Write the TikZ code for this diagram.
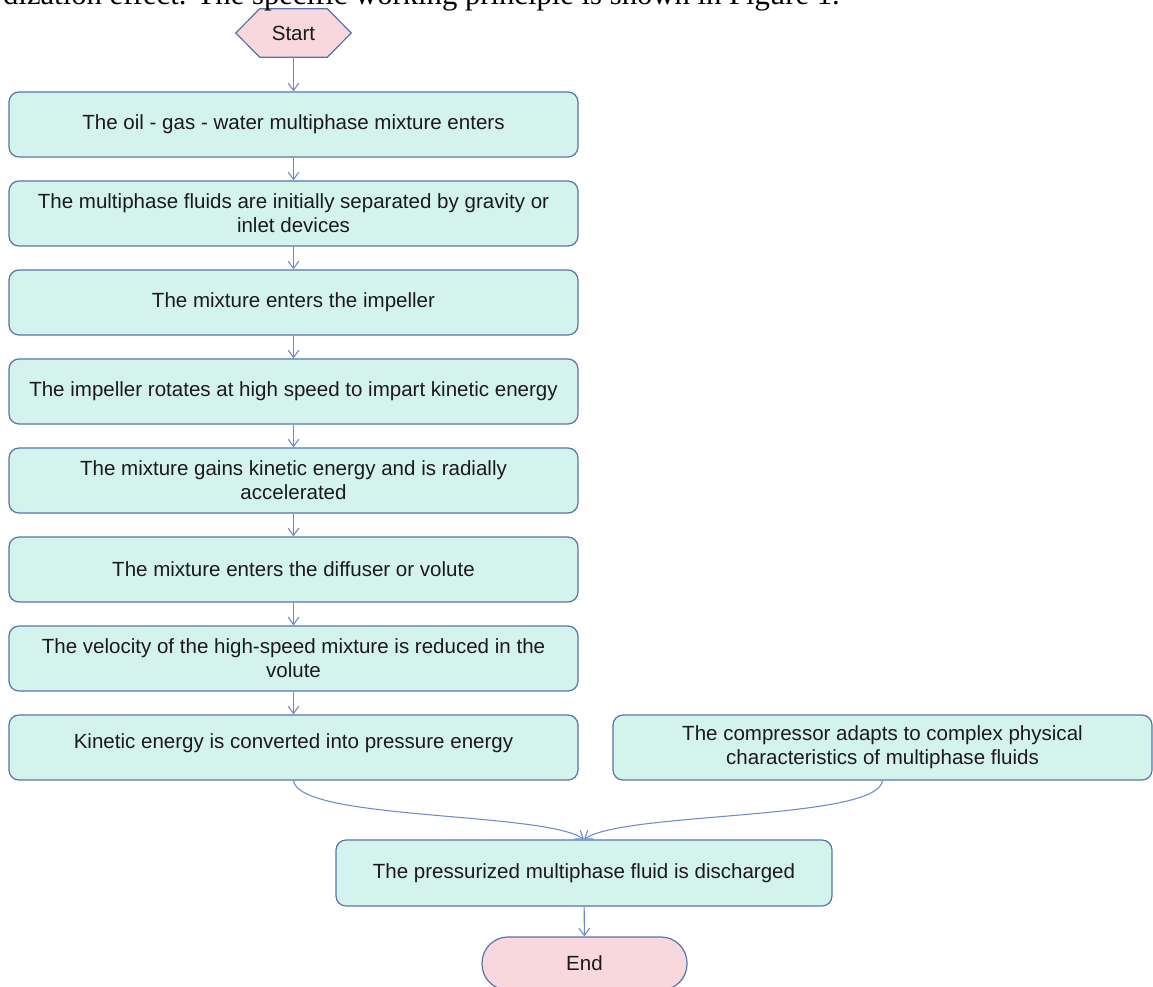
\documentclass[tikz,border=0pt]{standalone}
\usepackage{fontspec}
\setmainfont{Liberation Sans}
\newfontfamily\cutserif{Liberation Serif}
\usetikzlibrary{arrows.meta,backgrounds}
\definecolor{boxfill}{HTML}{D5F3ED}
\definecolor{pinkfill}{HTML}{F8D8DC}
\definecolor{bordercol}{HTML}{5872AC}
\definecolor{arrowcol}{HTML}{6A8CCB}
\definecolor{txtcol}{HTML}{1A1A1A}
\begin{document}
\begin{tikzpicture}[x=0.75pt,y=-0.75pt,
  box/.style={draw=bordercol, fill=boxfill, line width=0.9pt, rounded corners=7.5pt,
    minimum width=569*0.75pt, minimum height=65*0.75pt, inner sep=0pt, align=center,
    text=txtcol, font=\fontsize{15.4}{18}\selectfont},
  conn/.style={draw=arrowcol, line width=0.8pt, -{Straight Barb[length=5.5pt,width=8pt]}},
  termtxt/.style={text=txtcol, font=\fontsize{15.4}{18}\selectfont, inner sep=0pt}]
\useasboundingbox (0,0) rectangle (1153,986);
\clip (0,0) rectangle (1153,986);

% cut-off caption line at the top
\node[anchor=base east, inner sep=0pt, font=\cutserif\fontsize{23}{26}\selectfont, text=black]
  (cap) at (840,4) {dization effect. The specific working principle is shown in Figure 1.};

% start hexagon
\node[termtxt, minimum width=67*0.75pt, minimum height=48*0.75pt] (start) at (293.5,33) {Start};
\begin{scope}[on background layer]
\draw[draw=bordercol, fill=pinkfill, line width=0.9pt]
  (start.north west) -- (start.north east) -- ([xshift=18pt]start.east) --
  (start.south east) -- (start.south west) -- ([xshift=-18pt]start.west) -- cycle;
\end{scope}

\node[box] (b1) at (293.5,124.5) {The oil - gas - water multiphase mixture enters};
\node[box] (b2) at (293.5,213.5) {The multiphase fluids are initially separated by gravity or\\inlet devices};
\node[box] (b3) at (293.5,302.5) {The mixture enters the impeller};
\node[box] (b4) at (293.5,391.5) {The impeller rotates at high speed to impart kinetic energy};
\node[box] (b5) at (293.5,480.5) {The mixture gains kinetic energy and is radially\\accelerated};
\node[box] (b6) at (293.5,569.5) {The mixture enters the diffuser or volute};
\node[box] (b7) at (293.5,658.5) {The velocity of the high-speed mixture is reduced in the\\volute};
\node[box] (b8) at (293.5,747.5) {\raisebox{9pt}{Kinetic energy is converted into pressure energy}};
\node[box, minimum width=539*0.75pt] (rb) at (882.5,747.5) {The compressor adapts to complex physical\\characteristics of multiphase fluids};
\node[box, minimum width=496*0.75pt, minimum height=66*0.75pt] (b9) at (584,873) {The pressurized multiphase fluid is discharged};

\node[termtxt, draw=bordercol, fill=pinkfill, line width=0.9pt, rounded corners=19.5pt,
  minimum width=205*0.75pt, minimum height=53*0.75pt] (end) at (584.5,963.5) {End};

\draw[conn] (start) -- (b1);
\draw[conn] (b1) -- (b2);
\draw[conn] (b2) -- (b3);
\draw[conn] (b3) -- (b4);
\draw[conn] (b4) -- (b5);
\draw[conn] (b5) -- (b6);
\draw[conn] (b6) -- (b7);
\draw[conn] (b7) -- (b8);
\draw[conn] (b8.south) .. controls +(5,40) and +(-40,-28) .. (b9.north);
\draw[conn] (rb.south) .. controls +(-5,40) and +(40,-28) .. (b9.north);
\draw[conn] (b9) -- (end);
\end{tikzpicture}
\end{document}
